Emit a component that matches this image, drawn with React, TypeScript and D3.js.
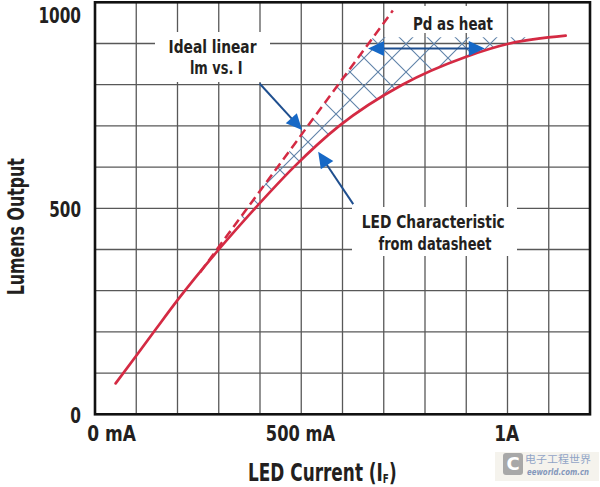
import React from "react";
import * as d3 from "d3";

// ---- data ----
const ledCurrent = [50, 100, 150, 200, 300, 388, 482, 592, 745, 900, 1005, 1141];
const ledLumens = [75, 142, 210, 277, 400, 500, 600, 700, 800, 868, 900, 919];
const idealCurrent = [255, 722];
const idealLumens = [345, 980];
const hatchTopLumens = 915;
const pdArrowCurrent = [662, 945];
const pdArrowLumens = 888;
const idealArrow = [[399, 803], [502, 690]]; // tail, tip (mA, lm)
const ledArrow = [[626, 510], [541, 637]];
const yTicks = [0, 500, 1000];
const yTickLabels = ["0", "500", "1000"];
const xTicks = [0, 500, 1000];
const xTickLabels = ["0 mA", "500 mA", "1A"];

const W = 600;
const H = 487;
const FONT = "'Liberation Sans Narrow','DejaVu Sans Condensed','Arial Narrow','Roboto Condensed',Roboto,sans-serif";
const INK = "#231f20";
const RED = "#d42a43";
const NAVY = "#1f4f8f";
const BLUE = "#1668c6";

const x = d3.scaleLinear().domain([0, 1200]).range([95, 590]);
const y = d3.scaleLinear().domain([0, 1000]).range([414.3, 2.3]);

const yLabelLen: Record<string, number> = { "0": 10.7, "500": 31.7, "1000": 42.6 };
const xLabelLen: Record<string, number> = { "0 mA": 48.7, "500 mA": 69.3, "1A": 25 };

type P = [number, number];

function T(props: { x: number; y: number; size: number; len?: number; anchor?: string; children: any; fill?: string; transform?: string }) {
  return (
    <text
      x={props.x}
      y={props.y}
      fontSize={props.size}
      fontWeight={700}
      fontFamily={FONT}
      textAnchor={props.anchor || "middle"}
      textLength={props.len}
      lengthAdjust={props.len ? "spacingAndGlyphs" : undefined}
      fill={props.fill || INK}
      transform={props.transform}
    >
      {props.children}
    </text>
  );
}

function head(tail: P, tip: P, L = 16, w = 7.5) {
  const dx = tip[0] - tail[0];
  const dy = tip[1] - tail[1];
  const d = Math.hypot(dx, dy);
  const ux = dx / d, uy = dy / d;
  const bx = tip[0] - ux * L, by = tip[1] - uy * L;
  const nx = -uy, ny = ux;
  return {
    poly: `${tip[0]},${tip[1]} ${bx + nx * w},${by + ny * w} ${bx - nx * w},${by - ny * w}`,
    base: [bx + ux * 2, by + uy * 2] as P,
  };
}

function Arrow({ from, to }: { from: number[]; to: number[] }) {
  const tail: P = [x(from[0]), y(from[1])];
  const tip: P = [x(to[0]), y(to[1])];
  const h = head(tail, tip);
  return (
    <g>
      <line x1={tail[0]} y1={tail[1]} x2={h.base[0]} y2={h.base[1]} stroke={NAVY} strokeWidth={2} />
      <polygon points={h.poly} fill={BLUE} />
    </g>
  );
}

function DoubleArrow() {
  const a: P = [x(pdArrowCurrent[0]), y(pdArrowLumens)];
  const b: P = [x(pdArrowCurrent[1]), y(pdArrowLumens)];
  const ha = head(b, a);
  const hb = head(a, b);
  return (
    <g>
      <line x1={ha.base[0]} y1={a[1]} x2={hb.base[0]} y2={b[1]} stroke={NAVY} strokeWidth={2} />
      <polygon points={ha.poly} fill={BLUE} />
      <polygon points={hb.poly} fill={BLUE} />
    </g>
  );
}

export default function App() {
  const led: P[] = ledCurrent.map((c, i) => [c, ledLumens[i]]);
  const ideal: P[] = idealCurrent.map((c, i) => [c, idealLumens[i]]);
  const curve = d3.curveMonotoneX;
  const ledPath = d3.line<P>().x((d) => x(d[0])).y((d) => y(d[1])).curve(curve)(led) || "";
  const idealPath = d3.line<P>().x((d) => x(d[0])).y((d) => y(d[1]))(ideal) || "";
  const clipA = d3
    .area<P>()
    .x((d) => x(d[0]))
    .y0((d) => y(d[1]))
    .y1(y(hatchTopLumens))
    .curve(curve)(led) || "";
  const clipB = `M${x(ideal[0][0])},${y(ideal[0][1])} L${x(ideal[1][0])},${y(ideal[1][1])} L${x(1200)},${y(ideal[1][1])} L${x(1200)},${y(0)} L${x(ideal[0][0])},${y(0)} Z`;

  const vGrid = d3.range(100, 1200, 100);
  const hGrid = d3.range(100, 1000, 100);

  return (
    <div style={{ position: "absolute", left: 0, top: 0, width: W, height: H, background: "#fff" }}>
      <svg width={W} height={H} viewBox={`0 0 ${W} ${H}`}>
        <defs>
          <pattern id="hatch" patternUnits="userSpaceOnUse" width={28} height={28} x={0} y={2}>
            <path d="M-2,-2 L30,30 M30,-2 L-2,30" stroke="#5f82a8" strokeWidth={1.1} fill="none" />
          </pattern>
          <clipPath id="clipA">
            <path d={clipA} />
          </clipPath>
          <clipPath id="clipB">
            <path d={clipB} />
          </clipPath>
        </defs>
        <rect width={W} height={H} fill="#fff" />

        {/* grid */}
        <g stroke="#585858" strokeWidth={1.3}>
          {vGrid.map((v) => (
            <line key={"v" + v} x1={x(v)} x2={x(v)} y1={y(0)} y2={y(1000)} />
          ))}
          {hGrid.map((v) => (
            <line key={"h" + v} x1={x(0)} x2={x(1200)} y1={y(v)} y2={y(v)} />
          ))}
        </g>

        {/* hatch region: Pd as heat */}
        <g clipPath="url(#clipA)">
          <rect x={x(0)} y={y(1000)} width={x(1200) - x(0)} height={y(0) - y(1000)} fill="url(#hatch)" clipPath="url(#clipB)" />
        </g>

        {/* label backgrounds */}
        <rect x={155} y={32} width={115} height={50} fill="#fff" />
        <rect x={400} y={6} width={105} height={27} fill="#fff" />
        <rect x={352} y={207} width={165} height={49} fill="#fff" />

        {/* frame */}
        <rect x={x(0)} y={y(1000)} width={x(1200) - x(0)} height={y(0) - y(1000)} fill="none" stroke="#111" strokeWidth={2.6} />

        {/* curves */}
        <path d={idealPath} fill="none" stroke={RED} strokeWidth={2.5} strokeDasharray="9,5" />
        <path d={ledPath} fill="none" stroke={RED} strokeWidth={2.7} strokeLinecap="round" />

        {/* arrows */}
        <DoubleArrow />
        <Arrow from={idealArrow[0]} to={idealArrow[1]} />
        <Arrow from={ledArrow[0]} to={ledArrow[1]} />

        {/* annotation texts */}
        <T x={212.5} y={53.3} size={18} len={88}>Ideal linear</T>
        <T x={216.3} y={74.3} size={18} len={52.7}>lm vs. I</T>
        <T x={453} y={30} size={18} len={80}>Pd as heat</T>
        <T x={433.3} y={228} size={17.5} len={143}>LED Characteristic</T>
        <T x={435} y={250} size={17.5} len={113}>from datasheet</T>

        {/* y tick labels */}
        {yTicks.map((v, i) => (
          <T key={"yt" + v} x={81} y={Math.max(y(v) + 8.4, 23)} size={22} anchor="end" len={yLabelLen[yTickLabels[i]]}>
            {yTickLabels[i]}
          </T>
        ))}
        {/* x tick labels */}
        {xTicks.map((v, i) => (
          <T
            key={"xt" + v}
            x={i === 0 ? x(v) - 7.7 : x(v) - 0.8}
            y={441}
            size={22}
            anchor={i === 0 ? "start" : "middle"}
            len={xLabelLen[xTickLabels[i]]}
          >
            {xTickLabels[i]}
          </T>
        ))}

        {/* axis titles */}
        <text transform="translate(248,480.5) scale(0.752,1)" fontSize={25} fontWeight={700} fontFamily={FONT} fill={INK}>
          LED Current (I<tspan fontSize={13} dy={2.5}>F</tspan><tspan dy={-2.5}>)</tspan>
        </text>
        <T x={0} y={0} size={22.5} len={137} transform="translate(23.5,226.7) rotate(-90)">Lumens Output</T>

        {/* watermark */}
        <g opacity={0.85}>
          <rect x={495} y={452} width={104} height={29} fill="#f4f1ea" />
          <rect x={503} y={453} width={20} height={22} rx={3} fill="#9a9a9a" />
          <text x={513} y={470} fontSize={18} fontWeight={700} fontFamily="DejaVu Sans" fill="#fff" textAnchor="middle">C</text>
          <text x={525} y={463} fontSize={10} fontFamily="'Noto Sans CJK SC'" fill="#7d95bd" textLength={66} lengthAdjust="spacingAndGlyphs">电子工程世界</text>
          <text x={527} y={475} fontSize={8} fontStyle="italic" fontWeight={700} fontFamily="DejaVu Sans" fill="#6f86b0" textLength={62} lengthAdjust="spacingAndGlyphs">eeworld.com.cn</text>
        </g>
      </svg>
    </div>
  );
}
